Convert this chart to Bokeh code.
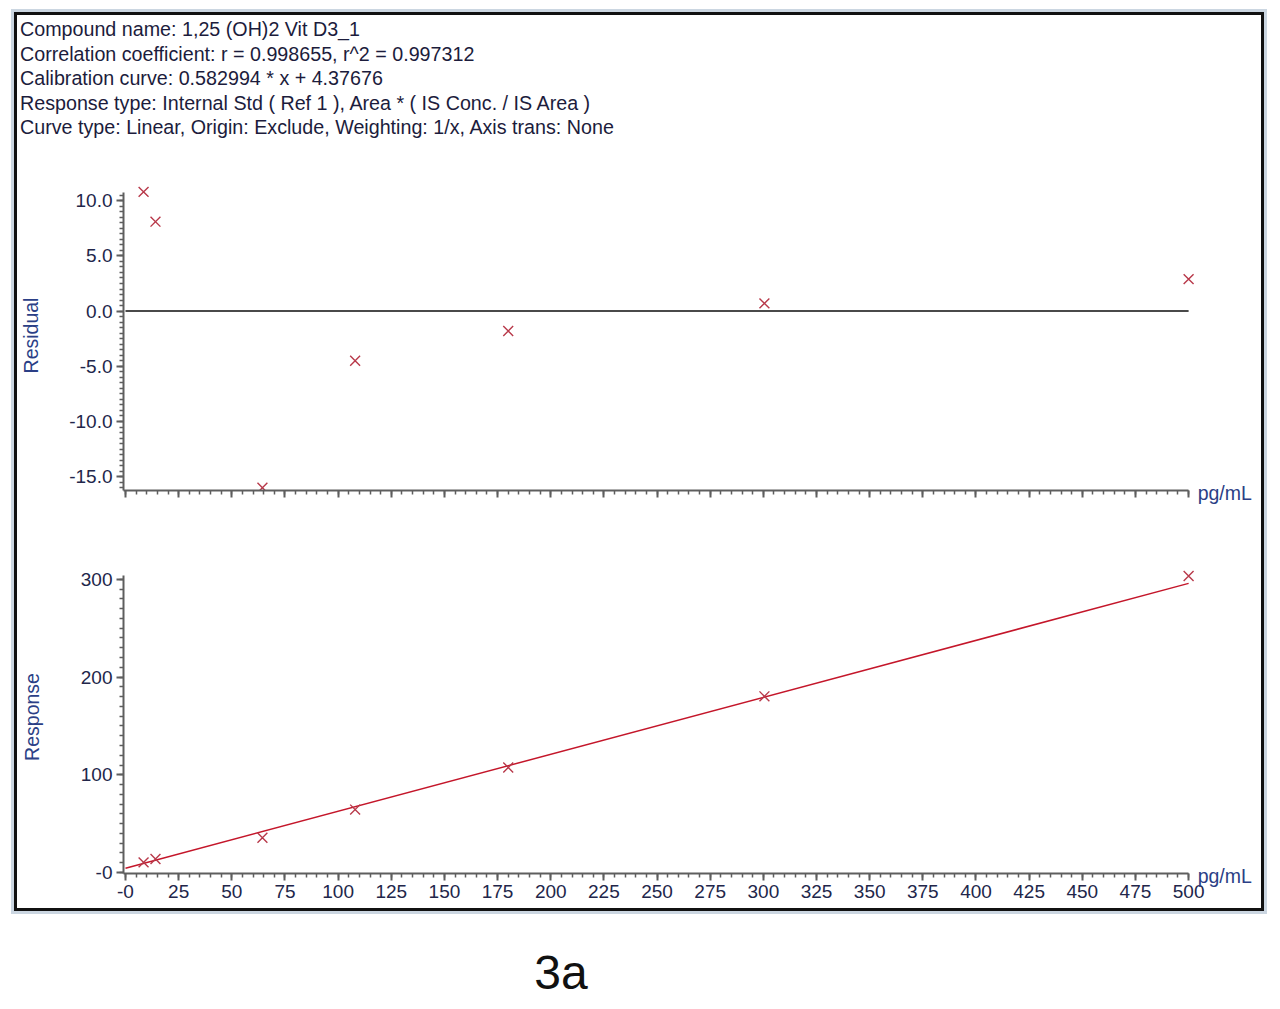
from bokeh.plotting import figure
from bokeh.layouts import column, row
from bokeh.models import (Range1d, SingleIntervalTicker, PrintfTickFormatter, FixedTicker,
                          LinearAxis, CustomLabelingPolicy, Div)
from bokeh.embed import file_html
from bokeh.resources import INLINE

# ---------------- data ----------------
header_lines = [
    "Compound name: 1,25 (OH)2 Vit D3_1",
    "Correlation coefficient: r = 0.998655, r^2 = 0.997312",
    "Calibration curve: 0.582994 * x + 4.37676",
    "Response type: Internal Std ( Ref 1 ), Area * ( IS Conc. / IS Area )",
    "Curve type: Linear, Origin: Exclude, Weighting: 1/x, Axis trans: None",
]
conc = [8.5, 14.1, 64.4, 108.0, 180.0, 300.5, 500.0]
residual = [10.8, 8.1, -16.0, -4.5, -1.8, 0.7, 2.9]
response = [10.4, 13.8, 35.6, 64.4, 107.4, 180.3, 303.5]
fit_x = [0.0, 500.0]
fit_y = [4.38, 295.87]
zero_x = [0.0, 500.0]
zero_y = [0.0, 0.0]
unit_label = "pg/mL"
unit_pos = 517
figure_tag = "3a"

FONT = "Liberation Sans"
TICK_COLOR = "#22264a"
LABEL_COLOR = "#2b3f86"
AXIS_COLOR = "#5e5e5e"
MARK_COLOR = "#b8394a"
LINE_COLOR = "#c4162a"

W = 1244
X0, X1 = -0.94, 532.4
NO_MARGIN = (0, 0, 0, 0)


def style_axes(p):
    for ax in (p.xaxis[0], p.yaxis[0]):
        ax.axis_line_color = AXIS_COLOR
        ax.axis_line_width = 2
        ax.major_tick_line_color = AXIS_COLOR
        ax.major_tick_line_width = 2
        ax.minor_tick_line_color = AXIS_COLOR
        ax.minor_tick_line_width = 1.5
        ax.major_tick_in = 0
        ax.major_tick_out = 7
        ax.minor_tick_in = 0
        ax.minor_tick_out = 4
        ax.major_label_text_font = FONT
        ax.major_label_text_font_size = "19px"
        ax.major_label_text_color = TICK_COLOR
        ax.major_label_standoff = 4
        ax.axis_label_text_font = FONT
        ax.axis_label_text_font_size = "19.5px"
        ax.axis_label_text_font_style = "normal"
        ax.axis_label_text_color = LABEL_COLOR
    p.grid.visible = False
    p.outline_line_color = None


def unit_axis(p, standoff):
    ua = LinearAxis(ticker=FixedTicker(ticks=[unit_pos], minor_ticks=[]),
                    major_label_overrides={unit_pos: unit_label},
                    axis_line_color=None, major_tick_line_color=None,
                    minor_tick_line_color=None, major_tick_in=0, major_tick_out=0,
                    minor_tick_in=0, minor_tick_out=0,
                    major_label_standoff=standoff,
                    major_label_text_font=FONT, major_label_text_font_size="19.5px",
                    major_label_text_color=LABEL_COLOR)
    p.add_layout(ua, "below")


# ---------------- header ----------------
hdr_html = ('<div style="font-family:\'Liberation Sans\',Arial,sans-serif;font-size:19.7px;'
            'line-height:24.5px;color:#1c1c3c;padding:2px 0 0 3px;white-space:nowrap;">'
            + "<br>".join(header_lines) + "</div>")
hdr = Div(text=hdr_html, width=W, height=135, margin=NO_MARGIN)

# ---------------- residual plot ----------------
ty0, ty1 = -16.25, 11.83
top = figure(width=W, height=380, x_range=Range1d(X0, X1), y_range=Range1d(ty0, ty1),
             toolbar_location=None, output_backend="svg",
             min_border_left=105, min_border_right=4, min_border_top=30, min_border_bottom=40)
style_axes(top)
top.xaxis.ticker = SingleIntervalTicker(interval=25, num_minor_ticks=5)
top.xaxis.major_label_policy = CustomLabelingPolicy(
    code="const ids = [...indices]; for (const i of ids) { indices.unset(i) } return indices")
top.xaxis.bounds = (X0, 500)
top.yaxis.ticker = SingleIntervalTicker(interval=5, num_minor_ticks=10)
top.yaxis.formatter = PrintfTickFormatter(format="%.1f")
top.yaxis.bounds = (ty0, 10.7)
top.yaxis.axis_label = "Residual"
top.yaxis.axis_label_standoff = 24
unit_axis(top, -36)
top.line(zero_x, zero_y, line_color="#4a4a4a", line_width=2)
top.scatter(conc, residual, marker="x", size=14, line_color=MARK_COLOR, line_width=1.4)

# ---------------- response plot ----------------
by0, by1 = -1.02, 319.3
bot = figure(width=W, height=378, x_range=Range1d(X0, X1), y_range=Range1d(by0, by1),
             toolbar_location=None, output_backend="svg",
             min_border_left=105, min_border_right=4, min_border_top=30, min_border_bottom=35)
style_axes(bot)
bot.xaxis.ticker = SingleIntervalTicker(interval=25, num_minor_ticks=5)
bot.xaxis.major_label_overrides = {0: "-0"}
bot.xaxis.bounds = (X0, 500)
bot.yaxis.ticker = SingleIntervalTicker(interval=100, num_minor_ticks=10)
bot.yaxis.major_label_overrides = {0: "-0"}
bot.yaxis.bounds = (by0, 304)
bot.yaxis.axis_label = "Response"
bot.yaxis.axis_label_standoff = 35
unit_axis(bot, -36)
bot.line(fit_x, fit_y, line_color=LINE_COLOR, line_width=1.5)
bot.scatter(conc, response, marker="x", size=14, line_color=MARK_COLOR, line_width=1.4)

framed = column(hdr, top, bot,
                styles={"border": "3px solid #111111", "box-shadow": "0 0 0 3px #cbd6e1"})

# ---------------- figure tag ----------------
tag_html = ('<div style="width:1094px;font-family:\'Liberation Sans\',Arial,sans-serif;font-size:48px;'
            'line-height:56px;color:#111111;text-align:center;padding-top:34px;">'
            + figure_tag + "</div>")
tag = Div(text=tag_html, width=1094, height=88, margin=NO_MARGIN)

# empty spacers: their margins give the offset of the framed panel
gap_top = Div(text="", width=10, height=6, margin=(3, 1, 3, 1))
gap_left1 = Div(text="", width=7, height=10, margin=(1, 3, 1, 4))
gap_left2 = Div(text="", width=7, height=10, margin=(1, 3, 1, 4))

page = column(gap_top, row(gap_left1, framed), row(gap_left2, tag))

open("out.html", "w").write(file_html(page, INLINE))
